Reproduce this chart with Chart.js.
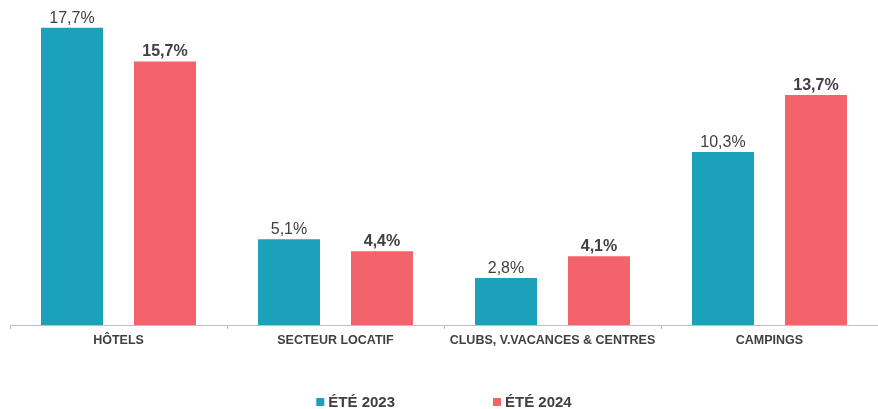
<!DOCTYPE html>
<html><head><meta charset="utf-8">
<script src="https://cdn.jsdelivr.net/npm/chart.js@4/dist/chart.umd.min.js"></script>
<style>html,body{margin:0;padding:0;background:#fff}#wrap{width:878px;height:409px}</style>
</head><body><div id="wrap"><canvas id="c" width="878" height="409"></canvas></div>
<script>
const categories = ['HÔTELS', 'SECTEUR LOCATIF', 'CLUBS, V.VACANCES & CENTRES', 'CAMPINGS'];
const series2023 = [17.7, 5.1, 2.8, 10.3];
const series2024 = [15.7, 4.4, 4.1, 13.7];
const seriesNames = ['ÉTÉ 2023', 'ÉTÉ 2024'];
const colors = ['#1BA1B9', '#F3636B'];
const labelColor = '#404040';

const valueLabels = {
  id: 'valueLabels',
  afterDatasetsDraw(chart) {
    const ctx = chart.ctx;
    ctx.save();
    ctx.textAlign = 'center';
    ctx.textBaseline = 'alphabetic';
    ctx.fillStyle = labelColor;
    chart.data.datasets.forEach((ds, di) => {
      const meta = chart.getDatasetMeta(di);
      ctx.font = (di === 1 ? 'bold ' : '') + '16px "Liberation Sans", Arial, sans-serif';
      meta.data.forEach((bar, i) => {
        const txt = ds.data[i].toFixed(1).replace('.', ',') + '%';
        ctx.fillText(txt, bar.x, bar.y - 5);
      });
    });
    ctx.restore();
  }
};

const customLegend = {
  id: 'customLegend',
  afterDraw(chart) {
    const ctx = chart.ctx;
    const area = chart.chartArea;
    ctx.save();
    ctx.font = 'bold 15px "Liberation Sans", Arial, sans-serif';
    ctx.textBaseline = 'middle';
    ctx.textAlign = 'left';
    const box = 8, gap = 4, spacing = 98;
    const widths = chart.data.datasets.map(ds => box + gap + ctx.measureText(ds.label).width);
    const total = widths.reduce((a, b) => a + b, 0) + spacing * (widths.length - 1);
    let x = (area.left + area.right) / 2 - total / 2;
    const cy = 402;
    chart.data.datasets.forEach((ds, i) => {
      ctx.fillStyle = ds.backgroundColor;
      ctx.fillRect(x, cy - box / 2, box, box);
      ctx.fillStyle = labelColor;
      ctx.fillText(ds.label, x + box + gap, cy + 1);
      x += widths[i] + spacing;
    });
    ctx.restore();
  }
};

new Chart(document.getElementById('c'), {
  type: 'bar',
  data: {
    labels: categories,
    datasets: [
      { label: seriesNames[0], data: series2023, backgroundColor: colors[0] },
      { label: seriesNames[1], data: series2024, backgroundColor: colors[1] }
    ]
  },
  options: {
    responsive: false,
    animation: false,
    layout: { padding: { left: 10, right: 0, top: 6, bottom: 54 } },
    datasets: { bar: { categoryPercentage: 0.857, barPercentage: 0.667 } },
    plugins: { legend: { display: false }, tooltip: { enabled: false } },
    scales: {
      y: { display: false, min: 0, max: 19 },
      x: {
        afterFit(scale) { scale.height = 30; },
        border: { display: true, color: '#BFBFBF', width: 1 },
        grid: { display: true, offset: true, drawOnChartArea: false, drawTicks: true, tickLength: 4, color: '#BFBFBF' },
        ticks: { color: '#404040', padding: 4, maxRotation: 0, autoSkip: false,
          font: { family: '"Liberation Sans", Arial, sans-serif', size: 12.5, weight: 'bold' } }
      }
    }
  },
  plugins: [valueLabels, customLegend]
});
</script></body></html>
